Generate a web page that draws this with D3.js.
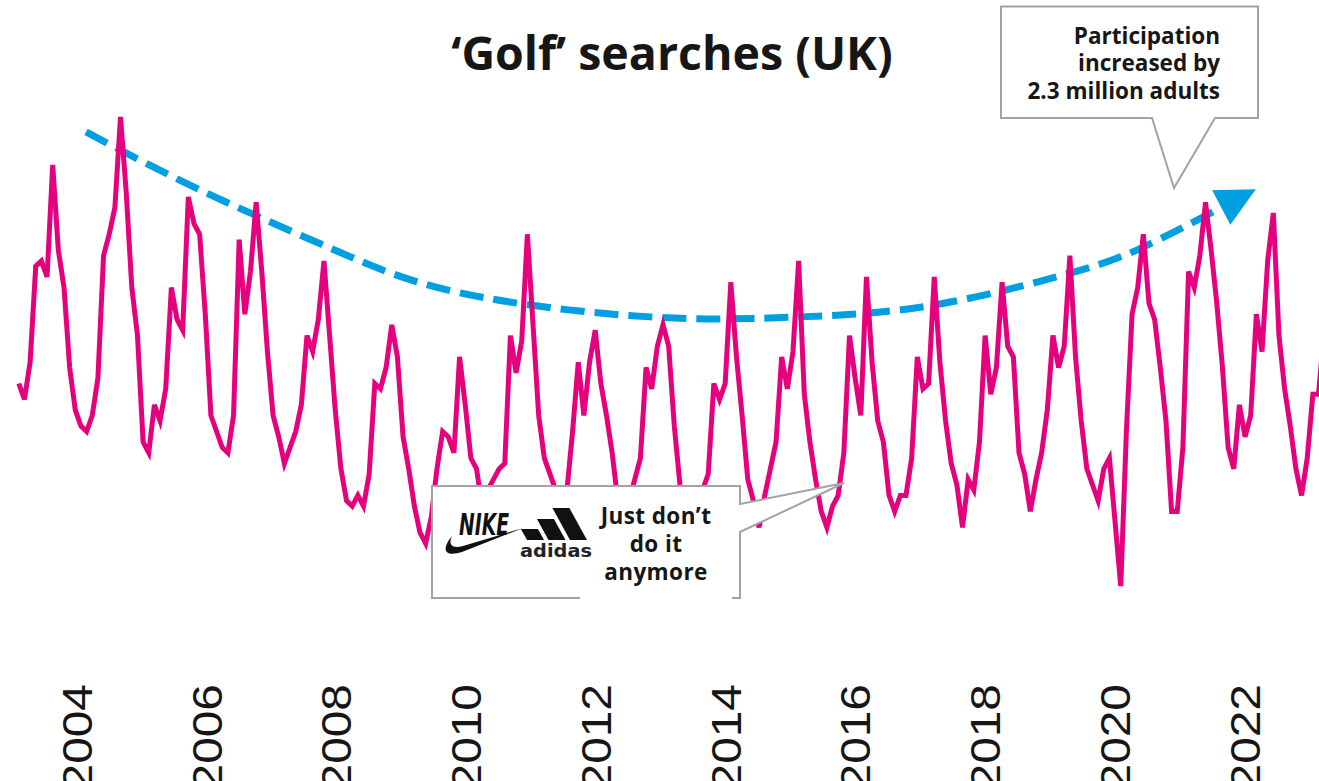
<!DOCTYPE html>
<html>
<head>
<meta charset="utf-8">
<script src="https://cdn.jsdelivr.net/npm/d3@7"></script>
<style>
    body { margin: 0; background: #ffffff; }
    svg { display: block; }
</style>
</head>
<body>
<svg id="mysvg" width="1319" height="781"></svg>
<script>
// monthly search interest (0-100), starting Jan 2004
let startYear = 2004;
let searchIndex = [
    50, 47, 54, 72, 73, 70, 91, 75, 68, 53, 45, 42,
    41, 44, 51, 74, 78, 83, 100, 86, 68, 59, 39, 37,
    46, 43, 49, 68, 62, 60, 85, 80, 78, 63, 44, 41,
    38, 37, 44, 77, 63, 71, 84, 71, 56, 44, 40, 35,
    38, 41, 46, 59, 56, 62, 73, 59, 45, 34, 28, 27,
    29, 27, 33, 50, 49, 53, 61, 55, 40, 34, 27, 22,
    20, 25, 34, 41, 40, 37, 55, 46, 36, 34, 27, 30,
    32, 34, 35, 59, 52, 58, 78, 61, 44, 36, 33, 30,
    28, 30, 41, 54, 44, 54, 60, 50, 44, 37, 28, 27,
    28, 32, 36, 53, 49, 57, 61, 57, 42, 31, 27, 26,
    27, 30, 33, 50, 47, 50, 69, 55, 44, 32, 28, 23,
    29, 34, 39, 55, 49, 56, 73, 48, 39, 32, 26, 23,
    27, 29, 37, 59, 51, 44, 70, 54, 43, 39, 29, 26,
    29, 29, 36, 55, 49, 50, 70, 54, 43, 35, 31, 23,
    32, 30, 39, 59, 48, 53, 69, 57, 55, 37, 33, 26,
    32, 37, 45, 59, 53, 57, 74, 55, 43, 34, 31, 28,
    34, 36, 24, 12, 41, 63, 68, 78, 65, 62, 53, 43,
    26, 26, 38, 71, 68, 74, 84, 75, 65, 53, 38, 34,
    46, 40, 44, 63, 56, 73, 82, 59, 49, 42, 34, 29,
    36, 48, 48, 60
];
let axisYears = [2004, 2006, 2008, 2010, 2012, 2014, 2016, 2018, 2020, 2022];

// hand drawn trend arrow (month index, value)
let trendMonths = [11.9, 32.1, 55.1, 78.1, 111.7, 138.2, 161.8, 186, 199, 213.1];
let trendValues = [97.2, 86.3, 75.4, 67, 62.5, 62.5, 64.7, 70.7, 75.6, 83.2];

let pink = "#e5007d";
let blue = "#009fe2";
let grey = "#a3a3a3";
let ink = "#161616";

let svg = d3.select('#mysvg');

let x = d3.scaleLinear()
    .domain([0, 231])
    .range([18.8, 18.8 + 5.651 * 231]);

let y = d3.scaleLinear()
    .domain([0, 100])
    .range([650, 117]);

// year labels are spaced a bit tighter than the data
let xLabel = d3.scaleLinear()
    .domain([2004, 2022])
    .range([76.5, 1244]);

drawTrend(svg);
drawLine(svg);
drawAxis(svg);
drawTitle(svg);
drawParticipationCallout(svg);
drawBrandCallout(svg);


function drawTrend(svg)
{
    let pts = trendMonths.map((m, i) => [m, trendValues[i]]);
    let line = d3.line()
        .x(d => x(d[0]))
        .y(d => y(d[1]))
        .curve(d3.curveNatural);

    let path = svg.append("path")
        .attr("d", line(pts))
        .attr("fill", "none")
        .attr("stroke", blue)
        .attr("stroke-width", 7)
        .attr("stroke-dasharray", "24 10");

    // arrow head follows the direction at the end of the curve
    let node = path.node();
    let len = node.getTotalLength();
    let p0 = node.getPointAtLength(len - 6);
    let p1 = node.getPointAtLength(len);
    let angle = Math.atan2(p1.y - p0.y, p1.x - p0.x) * 180 / Math.PI;

    svg.append("path")
        .attr("d", "M-2,-19.5 L37,0 L-2,19.5 Z")
        .attr("transform", "translate(" + p1.x + "," + p1.y + ") rotate(" + angle + ")")
        .attr("fill", blue);
}


function drawLine(svg)
{
    let line = d3.line()
        .x((d, i) => x(i))
        .y(d => y(d));

    svg.append("path")
        .datum(searchIndex)
        .attr("d", line)
        .attr("fill", "none")
        .attr("stroke", pink)
        .attr("stroke-width", 5)
        .attr("stroke-linejoin", "miter");
}


function drawAxis(svg)
{
    let axis = d3.axisBottom(xLabel)
        .tickValues(axisYears)
        .tickFormat(d3.format("d"))
        .tickSize(0);

    let g = svg.append("g")
        .attr("transform", "translate(0,684)")
        .call(axis);
    g.select(".domain").remove();

    g.selectAll("text")
        .attr("x", 0)
        .attr("y", 0)
        .attr("dy", "0.358em")
        .attr("text-anchor", "end")
        .attr("transform", "rotate(-90) scale(1.14,1)")
        .attr("font-family", "Liberation Sans")
        .attr("font-size", 42)
        .attr("fill", ink);
}


function drawTitle(svg)
{
    svg.append("text")
        .attr("x", 672)
        .attr("y", 70)
        .attr("text-anchor", "middle")
        .attr("font-family", "Open Sans")
        .attr("font-weight", 700)
        .attr("font-size", 46.5)
        .attr("fill", ink)
        .text("\u2018Golf\u2019 searches (UK)");
}


function drawParticipationCallout(svg)
{
    svg.append("path")
        .attr("d", "M1001,6.5 H1258 V118 H1215 L1174,188 L1152,118 H1001 Z")
        .attr("fill", "white")
        .attr("stroke", grey)
        .attr("stroke-width", 2);

    let lines = ["Participation", "increased by", "2.3 million adults"];
    svg.selectAll("text.part")
        .data(lines)
        .enter()
        .append("text")
        .attr("class", "part")
        .attr("x", 1220)
        .attr("y", (d, i) => 44 + i * 27.3)
        .attr("text-anchor", "end")
        .attr("font-family", "Open Sans")
        .attr("font-weight", 700)
        .attr("font-size", 22.5)
        .attr("fill", ink)
        .text(d => d);
}


function drawBrandCallout(svg)
{
    svg.append("path")
        .attr("d", "M432,486 H740 V504 L844,483 L740,532 V598 H432 Z")
        .attr("fill", "white")
        .attr("stroke", grey)
        .attr("stroke-width", 2);

    // the slogan's own white box sits over part of the bottom border
    svg.append("rect")
        .attr("x", 580)
        .attr("y", 596)
        .attr("width", 152)
        .attr("height", 4)
        .attr("fill", "white");

    /* nike */
    svg.append("text")
        .attr("x", 459)
        .attr("y", 535)
        .attr("font-family", "Liberation Sans Narrow, DejaVu Sans Condensed, sans-serif")
        .attr("font-weight", 700)
        .attr("font-style", "italic")
        .attr("font-size", 31)
        .attr("textLength", 50)
        .attr("lengthAdjust", "spacingAndGlyphs")
        .attr("fill", "#111")
        .text("NIKE");
    svg.append("path")
        .attr("d", "M452,536 C440,551 446,557 462,552 L523,528 L463,546 C452,549 448,545 452,536 Z")
        .attr("fill", "#111");

    /* adidas: three bars leaning back, heights 1:2:3 */
    let bars = [[527, 11], [548.5, 21], [570, 32]];
    svg.selectAll("path.bar")
        .data(bars)
        .enter()
        .append("path")
        .attr("class", "bar")
        .attr("d", d => "M" + d[0] + ",540 h17 l" + (-d[1] * 0.55) + "," + (-d[1]) + " h-17 Z")
        .attr("fill", "#111");
    svg.append("text")
        .attr("x", 520)
        .attr("y", 557)
        .attr("font-family", "DejaVu Sans")
        .attr("font-weight", 700)
        .attr("font-size", 17)
        .attr("textLength", 72)
        .attr("lengthAdjust", "spacingAndGlyphs")
        .attr("fill", "#222")
        .text("adidas");

    let lines = ["Just don\u2019t", "do it", "anymore"];
    svg.selectAll("text.slogan")
        .data(lines)
        .enter()
        .append("text")
        .attr("class", "slogan")
        .attr("x", 656)
        .attr("y", (d, i) => 524 + i * 28)
        .attr("text-anchor", "middle")
        .attr("font-family", "Open Sans")
        .attr("font-weight", 700)
        .attr("font-size", 22.5)
        .attr("letter-spacing", 0.4)
        .attr("fill", ink)
        .text(d => d);
}
</script>
</body>
</html>
